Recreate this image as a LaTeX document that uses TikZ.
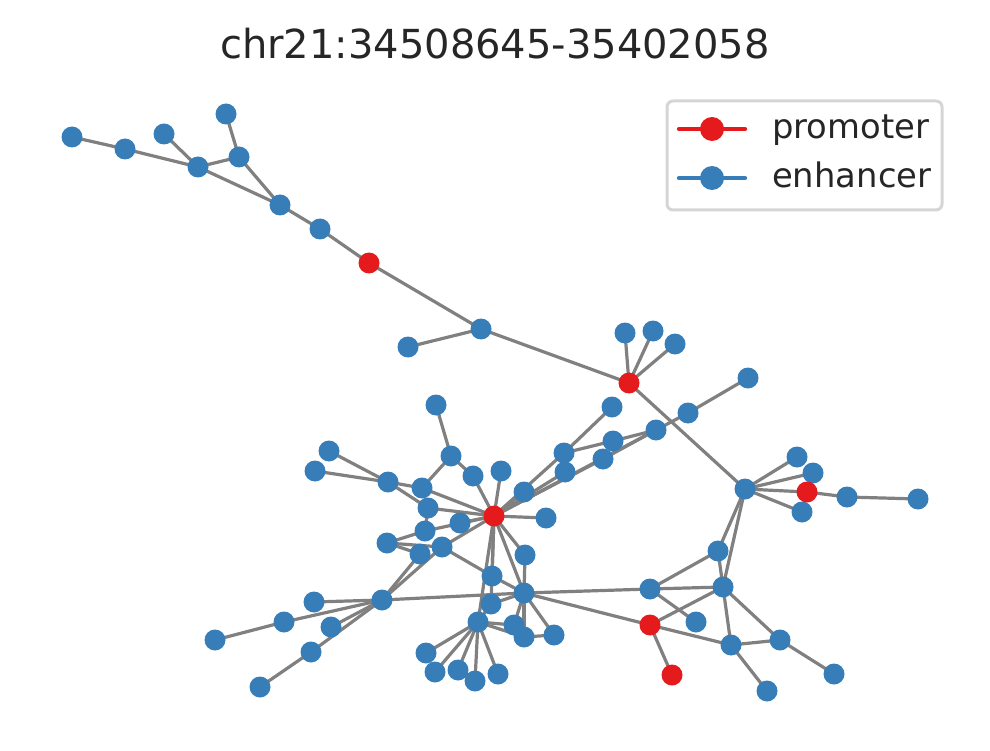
\documentclass[tikz,border=0pt]{standalone}
\usepackage{fontspec}
\setmainfont{DejaVu Sans}
\definecolor{pred}{HTML}{E41A1C}
\definecolor{eblue}{HTML}{377EB8}
\definecolor{egray}{HTML}{808080}
\definecolor{tcol}{HTML}{262626}
\definecolor{lgbord}{HTML}{D5D5D5}
\begin{document}
\begin{tikzpicture}[x=1pt,y=-1pt,
  enh/.style={circle,fill=eblue,inner sep=0pt,minimum size=21pt},
  pro/.style={circle,fill=pred,inner sep=0pt,minimum size=21pt},
  edge/.style={draw=egray,line width=3.2pt}]
\useasboundingbox (0,0) rectangle (990,751);
% red nodes
\foreach \n/\x/\y in {P1/369/263,P2/629/383,P3/494/516,P4/807/492,P5/650/625,P6/672/675}
  \coordinate (\n) at (\x,\y);
% blue nodes
\foreach \n/\x/\y in {A1/72/137,A2/125/149,A3/164/134,A4/226/114,A5/198/167,A6/239/157,A7/280/205,A8/320/229,
  B1/481/329,B2/408/347,C1/625/333,C2/653/331,C3/675/344,
  E1/748/378,E2/688/413,E3/656/430,
  F1/612/407,F2/564/453,F3/613/441,F4/603/459,F5/565/472,
  D1/745/489,G1/797/457,G2/813/473,G3/802/512,G4/847/497,G5/918/499,
  H1/718/551,H2/723/587,H3/650/589,H4/696/622,H5/731/645,H6/780/640,H7/834/674,H8/767/691,
  I0/524/593,J0/382/600,K1/314/602,K2/284/622,K3/331/627,K4/311/652,K5/215/640,K6/260/687,
  M1/387/543,M2/420/554,M3/442/547,M4/425/531,M5/460/523,M6/428/508,M7/422/488,M8/388/482,
  M9/451/456,M10/436/405,M11/329/451,M12/315/471,M13/473/476,M14/501/471,M15/524/492,
  M16/546/518,M17/525/555,M18/492/576,
  N1/491/604,N2/478/622,N3/514/625,N4/524/637,N5/554/635,
  O1/426/653,O2/435/672,O3/458/670,O4/475/681,O5/498/674}
  \coordinate (\n) at (\x,\y);
% edges
\foreach \a/\b in {A1/A2,A2/A5,A3/A5,A5/A6,A4/A6,A5/A7,A6/A7,A7/A8,A8/P1,P1/B1,B1/B2,B1/P2,
  P2/C1,P2/C2,P2/C3,P2/D1,E1/E2,E2/E3,
  D1/G1,D1/G2,D1/P4,D1/G3,P4/G4,G4/G5,
  D1/H1,D1/H2,H1/H2,H3/H1,H3/H2,P5/H2,H3/H4,H2/H5,P5/H5,H2/H6,H5/H6,H6/H7,H5/H8,P5/P6,
  I0/H3,I0/P5,
  J0/I0,J0/K1,J0/K2,K2/K5,J0/K3,J0/K4,K4/K6,J0/M2,J0/M3,
  M10/M9,M9/M7,M9/M13,M13/P3,M11/M8,M12/M8,M8/M7,M8/M6,M7/P3,M6/P3,M6/M4,M1/M4,M1/M2,M1/M3,
  M4/P3,M5/P3,M3/P3,M3/M18,M14/P3,M15/P3,M16/P3,M17/P3,P3/I0,P3/M18,P3/N1,P3/N2,M17/I0,M18/I0,
  N1/I0,N2/N1,N2/O1,N2/O2,N2/O3,N2/O4,N2/O5,I0/N3,I0/N4,I0/N5,N2/N3,N2/N4,N4/N5,
  P3/F2,P3/F5,P3/F4,P3/E3,F2/F1,F2/F3,F3/E3,F4/E3}
  \draw[edge] (\a) -- (\b);
% draw nodes on top
\foreach \n in {A1,A2,A3,A4,A5,A6,A7,A8,B1,B2,C1,C2,C3,E1,E2,E3,F1,F2,F3,F4,F5,
  D1,G1,G2,G3,G4,G5,H1,H2,H3,H4,H5,H6,H7,H8,I0,J0,K1,K2,K3,K4,K5,K6,
  M1,M2,M3,M4,M5,M6,M7,M8,M9,M10,M11,M12,M13,M14,M15,M16,M17,M18,
  N1,N2,N3,N4,N5,O1,O2,O3,O4,O5}
  \node[enh] (n\n) at (\n) {};
\foreach \n in {P1,P2,P3,P4,P5,P6}
  \node[pro] (n\n) at (\n) {};
% title
\node[anchor=base,text=tcol,font=\fontsize{40}{42}\selectfont,inner sep=0pt] (title) at (495,59) {chr21:34508645-35402058};
% legend
\draw[draw=lgbord,fill=white,line width=3pt,rounded corners=6pt] (667,101) rectangle (942,210);
\coordinate (lr1) at (679,129); \coordinate (lr2) at (745,129);
\coordinate (lb1) at (679,178); \coordinate (lb2) at (745,178);
\draw[draw=pred,line width=4.2pt,line cap=round] (lr1) -- (lr2);
\draw[draw=eblue,line width=4.2pt,line cap=round] (lb1) -- (lb2);
\node[pro,minimum size=24pt] (lgp) at (712,129) {};
\node[enh,minimum size=24pt] (lge) at (712,178) {};
\node[anchor=base west,text=tcol,font=\fontsize{33.8}{35}\selectfont,inner sep=0pt] (tp) at (772,139) {promoter};
\node[anchor=base west,text=tcol,font=\fontsize{33.8}{35}\selectfont,inner sep=0pt] (te) at (772,188) {enhancer};
\end{tikzpicture}
\end{document}
